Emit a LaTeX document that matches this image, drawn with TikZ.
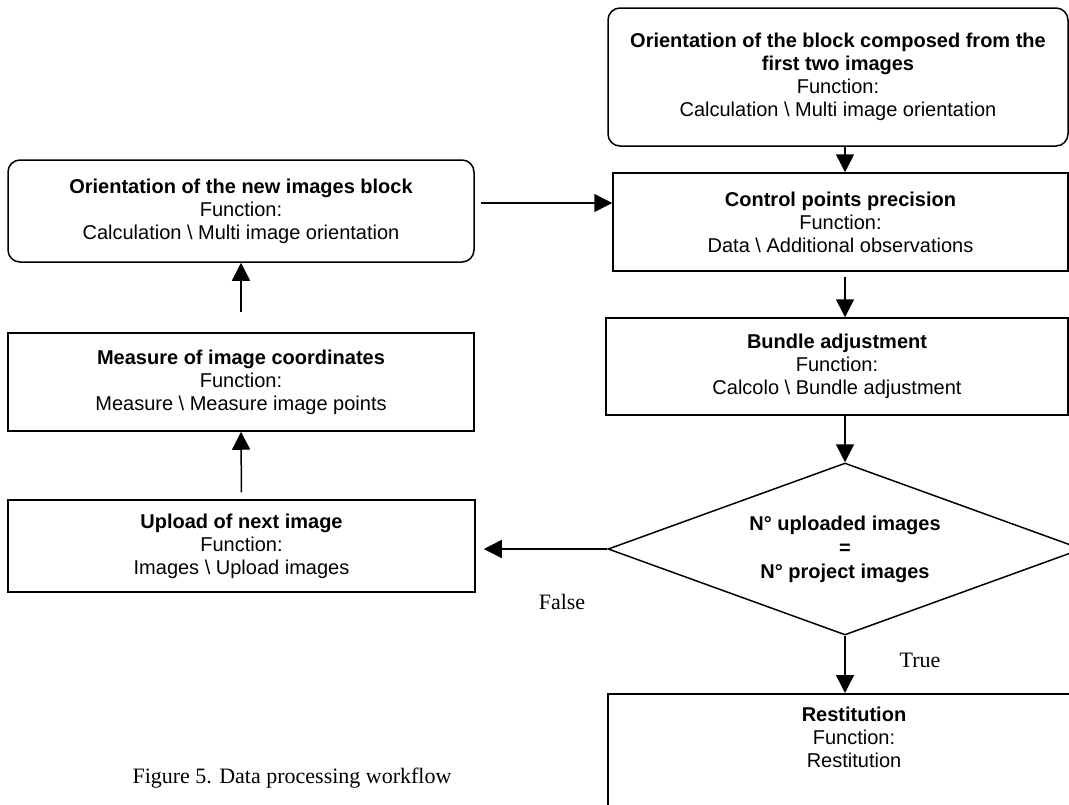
\documentclass[tikz,border=0pt]{standalone}
\usepackage{fontspec}
\setmainfont{Liberation Sans}
\newfontfamily\capfont{Liberation Serif}
\usetikzlibrary{shapes.geometric,arrows.meta}

\begin{document}
\begin{tikzpicture}[x=1pt,y=-1pt,
	box/.style={draw,line width=1.5pt,align=center,font=\fontsize{20}{23}\selectfont},
	rbox/.style={box,rounded corners=12pt},
	test/.style={draw,diamond,aspect=2.76,line width=1.5pt,align=center,inner sep=0pt,font=\bfseries\fontsize{20}{24}\selectfont},
	arr/.style={line width=1.5pt,-{Triangle[length=18pt,width=18pt]}},
	note/.style={font=\capfont\fontsize{22}{26}\selectfont}]
	\useasboundingbox (0,0) rectangle (1069,804);
	\clip (0,0) rectangle (1069,804);

	\node[rbox,minimum width=460pt,minimum height=138pt] (orient) at (838,77) {\textbf{Orientation of the block composed from the}\\\textbf{first two images}\\Function:\\Calculation \textbackslash{} Multi image orientation};
	\node[box,minimum width=455pt,minimum height=98pt] (ctrl) at (840.5,222) {\textbf{Control points precision}\\Function:\\Data \textbackslash{} Additional observations};
	\node[rbox,minimum width=466pt,minimum height=102pt] (newblk) at (241,211) {\textbf{Orientation of the new images block}\\Function:\\Calculation \textbackslash{} Multi image orientation};
	\node[box,minimum width=466pt,minimum height=98pt] (measure) at (241,382) {\textbf{Measure of image coordinates}\\Function:\\Measure \textbackslash{} Measure image points};
	\node[box,minimum width=467pt,minimum height=92pt] (upload) at (241.5,546) {\textbf{Upload of next image}\\Function:\\Images \textbackslash{} Upload images};
	\node[box,minimum width=462pt,minimum height=97pt] (bundle) at (837,366.5) {\textbf{Bundle adjustment}\\Function:\\Calcolo \textbackslash{} Bundle adjustment};
	\node[test,minimum width=474pt,minimum height=172pt] (check) at (845,549) {N° uploaded images\\=\\N° project images};
	\node[box,minimum width=492pt,minimum height=160pt,anchor=north,
		label={[name=resttxt,anchor=north,yshift=-10pt,align=center,font=\fontsize{20}{23}\selectfont]north:{\textbf{Restitution}\\Function:\\Restitution}}] (restit) at (854,693) {};

	\node[note] (falselbl) at (562,602) {False};
	\node[note] (truelbl) at (920,660) {True};
	\node[note] (caption) at (292,778) {Figure 5. Data processing workflow};

	\draw[arr] (orient.south -| check.north) -- (ctrl.north -| check.north);
	\draw[arr,shorten <=5pt] (ctrl.south -| check.north) -- (bundle.north -| check.north);
	\draw[arr] (bundle.south -| check.north) -- (check.north);
	\draw[arr] (check.south) -- (restit.north -| check.south);
	\draw[arr,shorten >=8pt] (check.west) -- (check.west -| upload.east);
	\draw[arr,shorten <=7pt] (upload.north) -- (measure.south);
	\draw[arr,shorten <=20pt] (measure.north) -- (newblk.south);
	\draw[arr,shorten <=6pt] ([yshift=8pt]newblk.east) -- ([yshift=8pt]newblk.east -| ctrl.west);
\end{tikzpicture}
\end{document}
